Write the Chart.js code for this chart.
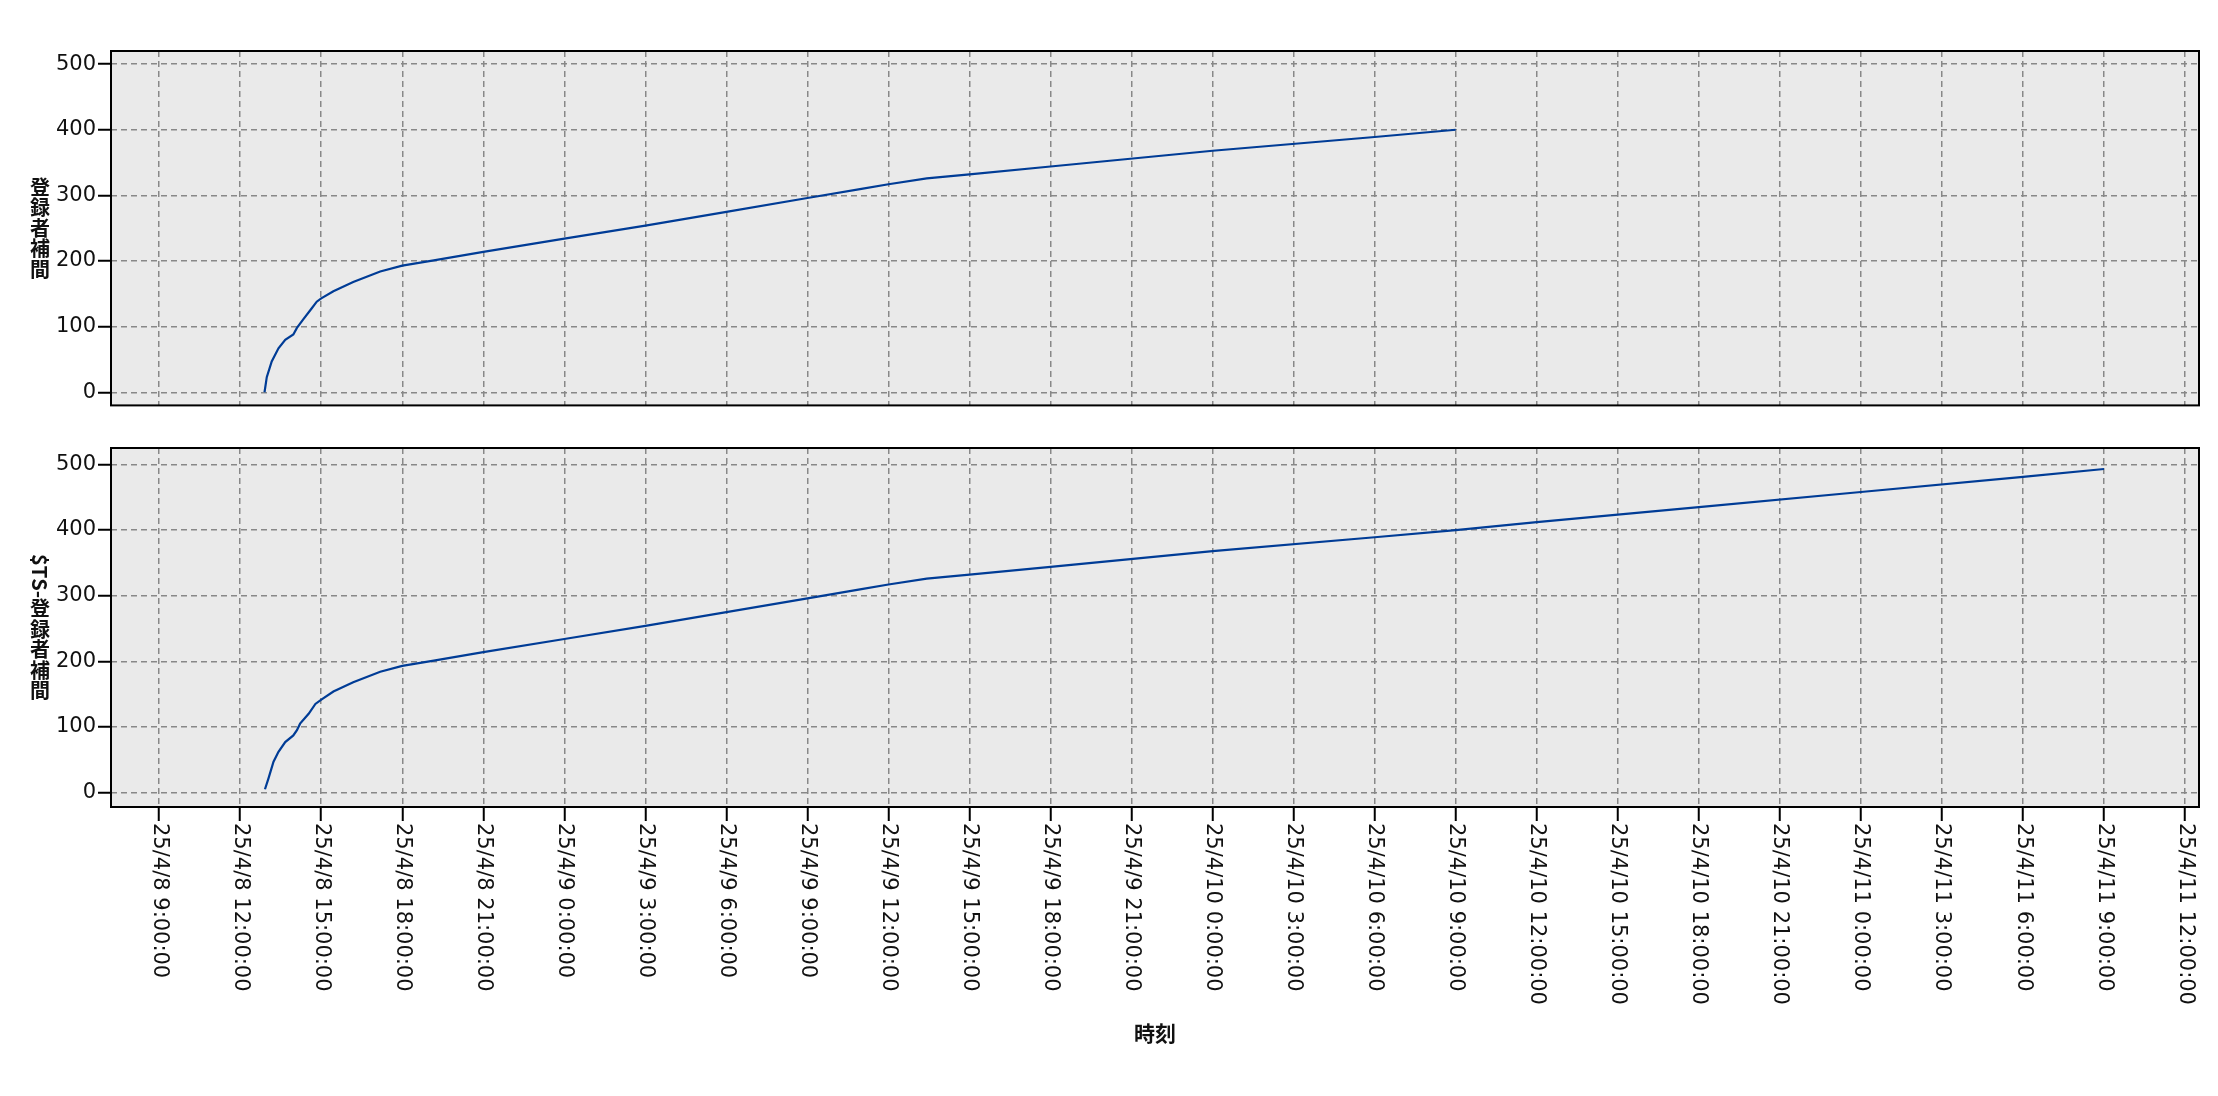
<!DOCTYPE html>
<html>
<head>
<meta charset="utf-8">
<script src="https://cdn.jsdelivr.net/npm/chart.js@4.4.1/dist/chart.umd.min.js"></script>
<style>
body { margin: 0; background: #fff; }
#wrap { position: relative; width: 2218px; height: 1096px; }
.box { position: absolute; left: 0; width: 2218px; }
</style>
</head>
<body>
<div id="wrap">
  <div class="box" style="top:0;height:420px"><canvas id="chartTop"></canvas></div>
  <div class="box" style="top:420px;height:676px"><canvas id="chartBottom"></canvas></div>
</div>
<script>
// tick labels on the time axis (every 3 hours)
const tickLabels = [
  '25/4/8 9:00:00', '25/4/8 12:00:00', '25/4/8 15:00:00', '25/4/8 18:00:00', '25/4/8 21:00:00',
  '25/4/9 0:00:00', '25/4/9 3:00:00', '25/4/9 6:00:00', '25/4/9 9:00:00',
  '25/4/9 12:00:00', '25/4/9 15:00:00', '25/4/9 18:00:00', '25/4/9 21:00:00',
  '25/4/10 0:00:00', '25/4/10 3:00:00', '25/4/10 6:00:00', '25/4/10 9:00:00',
  '25/4/10 12:00:00', '25/4/10 15:00:00', '25/4/10 18:00:00', '25/4/10 21:00:00',
  '25/4/11 0:00:00', '25/4/11 3:00:00', '25/4/11 6:00:00', '25/4/11 9:00:00', '25/4/11 12:00:00'
];
const xRange = ['25/4/8 7:13:00', '25/4/11 12:31:00'];
const yTicks = [0, 100, 200, 300, 400, 500];

// 登録者補間
const regTimes = [
  '25/4/8 12:54', '25/4/8 12:59', '25/4/8 13:10', '25/4/8 13:25', '25/4/8 13:40',
  '25/4/8 13:58', '25/4/8 14:06', '25/4/8 14:20', '25/4/8 14:39', '25/4/8 14:50',
  '25/4/8 15:00', '25/4/8 15:27', '25/4/8 16:11', '25/4/8 17:11', '25/4/8 18:00',
  '25/4/8 19:10', '25/4/8 21:00', '25/4/9 0:00', '25/4/9 3:00', '25/4/9 6:00',
  '25/4/9 9:00', '25/4/9 11:00', '25/4/9 12:00', '25/4/9 13:25', '25/4/9 15:00',
  '25/4/9 18:00', '25/4/10 0:00', '25/4/10 6:00', '25/4/10 9:00'
];
const regValues = [
  0, 23, 47, 67, 80,
  88, 98, 111, 128, 138,
  143, 154, 168, 184, 193,
  201, 214, 234, 254, 275,
  296, 310, 317, 326, 332,
  344, 368, 389, 400
];

// $TS-登録者補間
const tsTimes = [
  '25/4/8 12:55', '25/4/8 13:03', '25/4/8 13:14', '25/4/8 13:25', '25/4/8 13:40',
  '25/4/8 13:58', '25/4/8 14:06', '25/4/8 14:13', '25/4/8 14:32', '25/4/8 14:47',
  '25/4/8 15:01', '25/4/8 15:27', '25/4/8 16:11', '25/4/8 17:11', '25/4/8 18:00',
  '25/4/8 19:10', '25/4/8 21:00', '25/4/9 0:00', '25/4/9 3:00', '25/4/9 6:00',
  '25/4/9 9:00', '25/4/9 11:00', '25/4/9 12:00', '25/4/9 13:25', '25/4/9 15:00',
  '25/4/9 18:00', '25/4/10 0:00', '25/4/10 6:00', '25/4/10 9:00', '25/4/10 12:00',
  '25/4/10 18:00', '25/4/11 0:00', '25/4/11 6:00', '25/4/11 9:00'
];
const tsValues = [
  5, 22, 47, 62, 77,
  87, 95, 105, 120, 135,
  142, 154, 168, 184, 193,
  201, 214, 234, 254, 275,
  296, 310, 317, 326, 332,
  344, 368, 389, 400, 412,
  435, 458, 481, 493
];

function toHours(s) {
  const [d, t] = s.split(' ');
  let [Y, M, D] = d.split('/').map(Number);
  if (Y < 100) Y += 2000;
  const [h, m, sec] = t.split(':').map(Number);
  return Date.UTC(Y, M - 1, D, h, m, sec || 0) / 3600000;
}

const tickValues = tickLabels.map(toHours);
const xMin = toHours(xRange[0]), xMax = toHours(xRange[1]);

const FONT = '"DejaVu Sans", sans-serif';
const CJK = '"Noto Sans CJK JP", sans-serif';

// plot background and frame
const framePlugin = {
  id: 'frame',
  beforeDraw(chart) {
    const a = chart.chartArea, ctx = chart.ctx;
    ctx.save();
    ctx.fillStyle = '#eaeaea';
    ctx.fillRect(a.left, a.top, a.right - a.left, a.bottom - a.top);
    ctx.restore();
  },
  afterDraw(chart) {
    const a = chart.chartArea, ctx = chart.ctx;
    ctx.save();
    ctx.strokeStyle = '#000';
    ctx.lineWidth = 2;
    ctx.strokeRect(a.left, a.top, a.right - a.left, a.bottom - a.top);
    ctx.restore();
  }
};

// vertical y title: CJK upright, latin turned clockwise
const vTitlePlugin = {
  id: 'vTitle',
  afterDraw(chart, args, opts) {
    if (!opts.text) return;
    const ctx = chart.ctx, a = chart.chartArea, size = 20;
    ctx.save();
    ctx.font = 'bold ' + size + 'px ' + CJK;
    ctx.fillStyle = '#111';
    const chars = Array.from(opts.text);
    const isCJK = c => c.charCodeAt(0) > 0x2e7f;
    const adv = chars.map(c => isCJK(c) ? size * 1.03 : ctx.measureText(c).width);
    const total = adv.reduce((s, v) => s + v, 0);
    let y = (a.top + a.bottom) / 2 - total / 2;
    chars.forEach((c, i) => {
      ctx.save();
      ctx.textBaseline = 'middle';
      if (isCJK(c)) {
        ctx.textAlign = 'center';
        ctx.fillText(c, opts.x, y + adv[i] / 2);
      } else {
        ctx.translate(opts.x, y);
        ctx.rotate(Math.PI / 2);
        ctx.textAlign = 'left';
        ctx.fillText(c, 0, 0);
      }
      ctx.restore();
      y += adv[i];
    });
    ctx.restore();
  }
};

// x tick labels turned clockwise + x title
const xLabelPlugin = {
  id: 'xLabels',
  afterDraw(chart, args, opts) {
    if (!opts.show) return;
    const ctx = chart.ctx, a = chart.chartArea, xs = chart.scales.x;
    ctx.save();
    ctx.fillStyle = '#111';
    ctx.font = '21px ' + FONT;
    ctx.textBaseline = 'middle';
    ctx.textAlign = 'left';
    tickLabels.forEach((lab, i) => {
      const px = xs.getPixelForValue(tickValues[i]);
      ctx.save();
      ctx.translate(px, a.bottom + 16);
      ctx.rotate(Math.PI / 2);
      ctx.fillText(lab, 0, 0);
      ctx.restore();
    });
    ctx.font = 'bold 21px ' + CJK;
    ctx.textAlign = 'center';
    ctx.fillText(opts.title, (a.left + a.right) / 2, a.bottom + 226);
    ctx.restore();
  }
};

function makeChart(id, times, values, yMin, yMax, padTop, padBottom, xHeight, yTitle, showX) {
  return new Chart(document.getElementById(id), {
    type: 'line',
    data: {
      datasets: [{
        data: times.map((t, i) => ({ x: toHours(t), y: values[i] })),
        borderColor: 'rgb(0,60,150)',
        borderWidth: 2.2,
        pointRadius: 0,
        tension: 0,
        fill: false
      }]
    },
    options: {
      responsive: true,
      maintainAspectRatio: false,
      animation: false,
      layout: { padding: { top: padTop, right: 19, bottom: padBottom, left: 0 } },
      plugins: {
        legend: { display: false },
        tooltip: { enabled: false },
        vTitle: { text: yTitle, x: 40 },
        xLabels: { show: showX, title: '時刻' }
      },
      scales: {
        x: {
          type: 'linear',
          min: xMin,
          max: xMax,
          afterBuildTicks: s => { s.ticks = tickValues.map(v => ({ value: v })); },
          afterFit: s => { s.height = xHeight; },
          ticks: { display: false },
          grid: {
            color: '#888',
            lineWidth: 1.5,
            drawTicks: showX,
            tickLength: 14,
            tickColor: '#000',
            tickWidth: 2,
            tickBorderDash: []
          },
          border: { display: false, dash: [6, 4] }
        },
        y: {
          min: yMin,
          max: yMax,
          afterBuildTicks: s => { s.ticks = yTicks.map(v => ({ value: v })); },
          afterFit: s => { s.width = 111; },
          ticks: {
            color: '#111',
            font: { family: FONT, size: 21 },
            padding: 2,
            callback: v => String(v)
          },
          grid: {
            color: '#888',
            lineWidth: 1.5,
            tickLength: 13,
            tickColor: '#000',
            tickWidth: 2,
            tickBorderDash: []
          },
          border: { display: false, dash: [6, 4] }
        }
      }
    },
    plugins: [framePlugin, vTitlePlugin, xLabelPlugin]
  });
}

makeChart('chartTop', regTimes, regValues, -20, 520, 51, 12, 0, '登録者補間', false);
makeChart('chartBottom', tsTimes, tsValues, -22, 525, 28, 0, 289, '$TS-登録者補間', true);
</script>
</body>
</html>
